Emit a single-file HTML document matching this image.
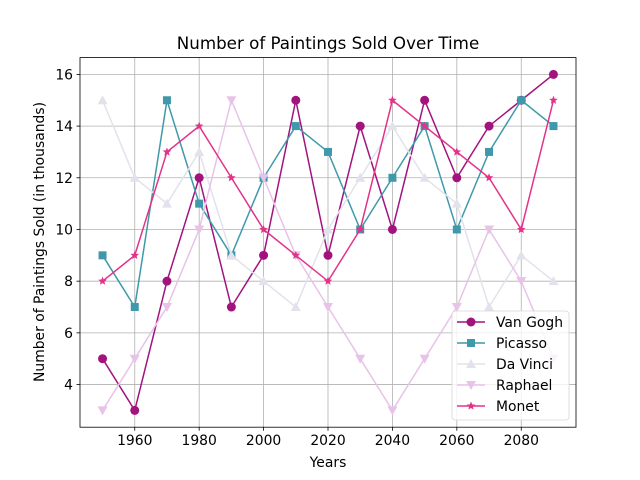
<!DOCTYPE html>
<html><head><meta charset="utf-8"><style>
body{margin:0;background:#fff;}
svg{display:block;font-family:"DejaVu Sans","Liberation Sans",sans-serif;}
</style></head><body>
<svg id="chart" width="640" height="480" xmlns="http://www.w3.org/2000/svg">
<rect width="640" height="480" fill="#fff"/>
<text x="328" y="49" font-size="16.7" text-anchor="middle">Number of Paintings Sold Over Time</text>
<text x="328" y="467" font-size="13.9" text-anchor="middle">Years</text>
<text transform="translate(44,242) rotate(-90)" font-size="13.9" text-anchor="middle">Number of Paintings Sold (in thousands)</text>
<g id="grid"></g><g id="series"></g>
<rect x="80" y="57.6" width="496" height="369.6" fill="none" stroke="#000" stroke-width="0.8"/>
<g id="ticks"></g>
<g id="legend"></g>
</svg>
<script>
const years=[1950,1960,1970,1980,1990,2000,2010,2020,2030,2040,2050,2060,2070,2080,2090];
const vanGogh=[5,3,8,12,7,9,15,9,14,10,15,12,14,15,16];
const picasso=[9,7,15,11,9,12,14,13,10,12,14,10,13,15,14];
const daVinci=[15,12,11,13,9,8,7,10,12,14,12,11,7,9,8];
const raphael=[3,5,7,10,15,12,9,7,5,3,5,7,10,8,5];
const monet=[8,9,13,14,12,10,9,8,10,15,14,13,12,10,15];
const xTicks=[1960,1980,2000,2020,2040,2060,2080];
const yTicks=[4,6,8,10,12,14,16];
const NS="http://www.w3.org/2000/svg";
const L=80,R=576,T=57.6,B=427.2;
const x0=1943,x1=2097,y0=2.35,y1=16.65;
const X=v=>L+(v-x0)/(x1-x0)*(R-L);
const Y=v=>B-(v-y0)/(y1-y0)*(B-T);
function mk(t,a,p){const e=document.createElementNS(NS,t);for(const k in a)e.setAttribute(k,a[k]);p.appendChild(e);return e;}
const grid=document.getElementById('grid'),ticks=document.getElementById('ticks');
xTicks.forEach(v=>{
 const g=mk('line',{x1:X(v),x2:X(v),y1:T,y2:B,stroke:'#b0b0b0','stroke-width':0.8},grid);
 
 mk('line',{x1:X(v),x2:X(v),y1:B,y2:B+3.5,stroke:'#000','stroke-width':0.8},ticks);
 const t=mk('text',{x:X(v),y:B+18,'font-size':13.9,'text-anchor':'middle'},ticks);t.textContent=v;
 
});
yTicks.forEach(v=>{
 const g=mk('line',{x1:L,x2:R,y1:Y(v),y2:Y(v),stroke:'#b0b0b0','stroke-width':0.8},grid);
 
 mk('line',{x1:L-3.5,x2:L,y1:Y(v),y2:Y(v),stroke:'#000','stroke-width':0.8},ticks);
 const t=mk('text',{x:L-7,y:Y(v)+5,'font-size':13.9,'text-anchor':'end'},ticks);t.textContent=v;
 
});
function marker(kind,cx,cy,c,p){
 let e;
 if(kind==='o')e=mk('circle',{cx,cy,r:4.5,fill:c},p);
 else if(kind==='s')e=mk('rect',{x:cx-4,y:cy-4,width:8,height:8,fill:c},p);
 else if(kind==='^')e=mk('polygon',{points:`${cx},${cy-5} ${cx-5},${cy+4} ${cx+5},${cy+4}`,fill:c},p);
 else if(kind==='v')e=mk('polygon',{points:`${cx},${cy+5} ${cx-5},${cy-4} ${cx+5},${cy-4}`,fill:c},p);
 else{let pts=[];for(let i=0;i<10;i++){const r=i%2?2:4.5,a=-Math.PI/2+i*Math.PI/5;pts.push((cx+r*Math.cos(a)).toFixed(2)+','+(cy+r*Math.sin(a)).toFixed(2));}
  e=mk('polygon',{points:pts.join(' '),fill:c},p);}
 return e;
}
const series=[
 {name:'Van Gogh',d:vanGogh,c:'#a2137e',m:'o',id:'van-gogh'},
 {name:'Picasso',d:picasso,c:'#3f99aa',m:'s',id:'picasso'},
 {name:'Da Vinci',d:daVinci,c:'#e2e2ec',m:'^',id:'da-vinci'},
 {name:'Raphael',d:raphael,c:'#e8c3e8',m:'v',id:'raphael'},
 {name:'Monet',d:monet,c:'#e2338a',m:'*',id:'monet'}];
const sg=document.getElementById('series');
series.forEach(s=>{
 const g=mk('g',{},sg);
 
 const pl=mk('polyline',{points:years.map((y,i)=>X(y)+','+Y(s.d[i])).join(' '),fill:'none',stroke:s.c,'stroke-width':1.5},g);
 
 years.forEach((y,i)=>{const m=marker(s.m,X(y),Y(s.d[i]),s.c,g);
  });
});
const lg=document.getElementById('legend');
mk('rect',{x:452,y:311,width:117,height:109,rx:3,fill:'#fff','fill-opacity':0.8,stroke:'#d6d6d6','stroke-width':0.8},lg);
series.forEach((s,i)=>{
 const cy=322+i*21;
 const e=mk('g',{},lg);
 
 mk('line',{x1:457,x2:485,y1:cy,y2:cy,stroke:s.c,'stroke-width':1.5},e);
 marker(s.m,471,cy,s.c,e);
 const t=mk('text',{x:496,y:cy+5,'font-size':13.9},e);t.textContent=s.name;
});
</script>
</body></html>
